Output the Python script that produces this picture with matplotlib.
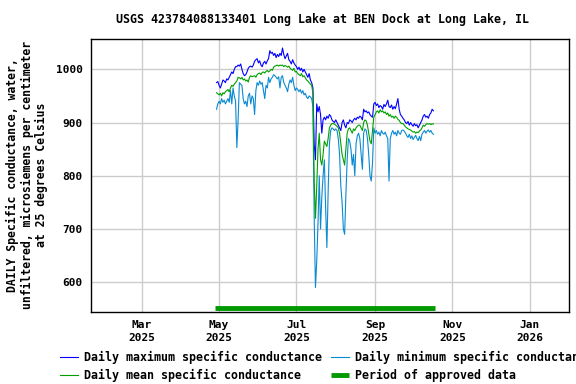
import numpy as np
import pandas as pd
import matplotlib
matplotlib.use("Agg")
from matplotlib import pyplot as plt

# daily values, 2025-04-29 .. 2025-10-17
dates = pd.date_range("2025-04-29", "2025-10-17", freq="D")

daily_max = [
    975, 977,
    970, 965, 972, 980, 978, 975, 982,
    980, 985, 990, 995, 992, 1000, 1005,
    1005, 1008, 1006, 1010, 1000, 992, 988,
    990, 995, 1002, 1005, 1006, 1004, 1008,
    1015, 1018, 1020, 1012, 1016, 1008, 1005,
    1012, 1015, 1010, 1016, 1020, 1035, 1030,
    1032, 1026, 1030, 1022, 1028, 1024, 1030,
    1026, 1040, 1028, 1020, 1025, 1030, 1018,
    1015, 1010, 1018, 1012, 1008, 1005, 1000,
    1004, 998, 1002, 995, 1000,
    995, 990, 985, 992, 980, 975, 965,
    860, 830, 935, 920, 930, 915, 880,
    905, 910, 905, 912, 908, 915, 912,
    905, 902, 900, 905, 900, 895, 890,
    885, 900, 905, 895, 890, 900, 898,
    905, 903, 900, 905, 908, 905, 910,
    908, 912, 910, 905, 925, 920, 922,
    918, 920, 915, 912, 910, 935, 938,
    932, 935, 928, 932, 930, 925, 934,
    930, 935, 942, 930, 928, 933, 925,
    930, 926, 935, 945, 925, 915, 912,
    908, 905, 900, 898, 902, 895, 900,
    896, 893, 898, 894, 896, 890, 895,
    900, 905, 912, 915, 910, 912, 908,
    915, 918, 925, 922,
]

daily_mean = [
    956, 954,
    952, 955, 950, 956, 954, 958, 960,
    962, 958, 965, 970, 968, 972, 975,
    978, 985, 984, 982, 985, 980, 982,
    978, 980, 976, 985, 988, 986, 987,
    988, 985, 990, 992, 993, 990, 994,
    995, 993, 996, 998, 995, 997, 1000,
    998, 1004, 1006, 1007, 1008, 1006, 1008,
    1007, 1008, 1005, 1007, 1006, 1004, 1006,
    1002, 1000, 998, 1002, 995, 996, 992,
    990, 988, 992, 986, 988,
    984, 980, 978, 975, 972, 970, 955,
    790, 720, 780, 850, 880, 830, 820,
    840, 865, 860, 855, 870, 890, 895,
    898, 898, 897, 895, 893, 890, 880,
    860, 840, 830, 820, 850, 880, 888,
    890, 885, 880, 888, 885, 890, 893,
    895, 895, 890, 885, 900, 905, 903,
    895, 880, 865, 860, 885, 910, 915,
    920, 922, 918, 924, 920, 922, 918,
    920, 915, 918, 912, 915, 910, 912,
    908, 912, 910, 906, 904, 900, 898,
    898, 895, 892, 890, 888, 887, 886,
    884, 882, 883, 880, 882, 881, 884,
    886, 890, 895, 893, 896, 898, 897,
    898, 896, 898, 897,
]

daily_min = [
    925, 935,
    940, 935, 945, 938, 942, 935, 940,
    945, 938, 960, 935, 965, 950, 940,
    853, 905, 975, 972, 970, 945, 935,
    940, 930, 950, 955, 935, 950, 945,
    915, 960, 975, 970, 978, 972, 975,
    960, 945, 970, 965, 985, 975, 982,
    985, 990, 988, 985, 982, 986, 965,
    985, 988, 975, 970, 965, 958, 972,
    980, 975, 985, 970, 960, 965, 962,
    958, 962, 955, 960, 952,
    955, 948, 945, 950, 948, 945, 930,
    720, 590, 640, 710, 800, 700, 760,
    800, 830, 740, 665, 770, 860, 885,
    890, 888, 885, 888, 885, 870, 840,
    780, 750, 700, 690, 765, 830, 870,
    865, 850, 820, 840, 800, 860, 875,
    880, 870, 840, 812, 880, 888, 885,
    870, 840, 800, 790, 825, 890, 880,
    885, 878, 882, 875, 885, 880, 878,
    882, 875, 870, 790, 870, 880, 885,
    878, 882, 875, 885, 880, 878, 885,
    886, 884, 880, 875, 872, 878, 870,
    875, 868, 872, 876, 870, 866, 874,
    866, 878, 882, 885, 880, 884, 886,
    882, 885, 880, 878,
]

approved_period = [pd.Timestamp("2025-04-28"), pd.Timestamp("2025-10-18")]
approved_level = 552

month_ticks = pd.to_datetime(["2025-03-01", "2025-05-01", "2025-07-01",
                              "2025-09-01", "2025-11-01", "2026-01-01"])
month_labels = ["Mar\n2025", "May\n2025", "Jul\n2025", "Sep\n2025", "Nov\n2025", "Jan\n2026"]
y_ticks = [600, 700, 800, 900, 1000]

mono = "DejaVu Sans Mono"
plt.rcParams['font.family'] = [mono]
plt.rcParams['font.weight'] = 'bold'

fig = plt.figure(figsize=(5.76, 3.84), dpi=100)
ax = fig.add_axes([0.158, 0.1875, 0.830, 0.711])

ax.plot(dates, daily_max, color='#0000ff', lw=0.8, label='Daily maximum specific conductance')
ax.plot(dates, daily_min, color='#0a8ad2', lw=0.8, label='Daily minimum specific conductance')
ax.plot(dates, daily_mean, color='#00a000', lw=0.8, label='Daily mean specific conductance')
ax.plot(approved_period, [approved_level, approved_level], color='#009900', lw=3.5,
        solid_capstyle='butt', label='Period of approved data')

ax.set_xlim(pd.Timestamp("2025-01-20"), pd.Timestamp("2026-02-01"))
ax.set_ylim(544, 1057)
ax.set_xticks(month_ticks)
ax.set_xticklabels(month_labels, linespacing=1.3)
ax.set_yticks(y_ticks)
ax.tick_params(length=0, labelsize=8, pad=6)
for lab in ax.get_xticklabels() + ax.get_yticklabels():
    lab.set_fontweight('bold')
ax.grid(True, color='#cccccc', lw=1)
ax.set_axisbelow(True)
for sp in ax.spines.values():
    sp.set_color('black')
    sp.set_linewidth(1)

fig.text(322 / 576, 1 - 19 / 384,
         "USGS 423784088133401 Long Lake at BEN Dock at Long Lake, IL",
         ha='center', va='center', fontsize=8.4, fontweight='bold')

fig.text(27 / 576, 0.544,
         "DAILY Specific conductance, water,\nunfiltered, microsiemens per centimeter\nat 25 degrees Celsius",
         rotation=90, ha='center', va='center', multialignment='center',
         fontsize=8.3, fontweight='bold', linespacing=1.15)

handles, labels = ax.get_legend_handles_labels()
order = [0, 2, 1, 3]
fig.legend([handles[i] for i in order], [labels[i] for i in order],
           loc='upper left', bbox_to_anchor=(60 / 576, 1 - 351 / 384), ncol=2,
           frameon=False, borderpad=0, borderaxespad=0, handlelength=1.55,
           handletextpad=0.5, columnspacing=0.77, labelspacing=0.4,
           prop={'family': mono, 'weight': 'bold', 'size': 8.4})

fig.savefig("out.png", dpi=100)
